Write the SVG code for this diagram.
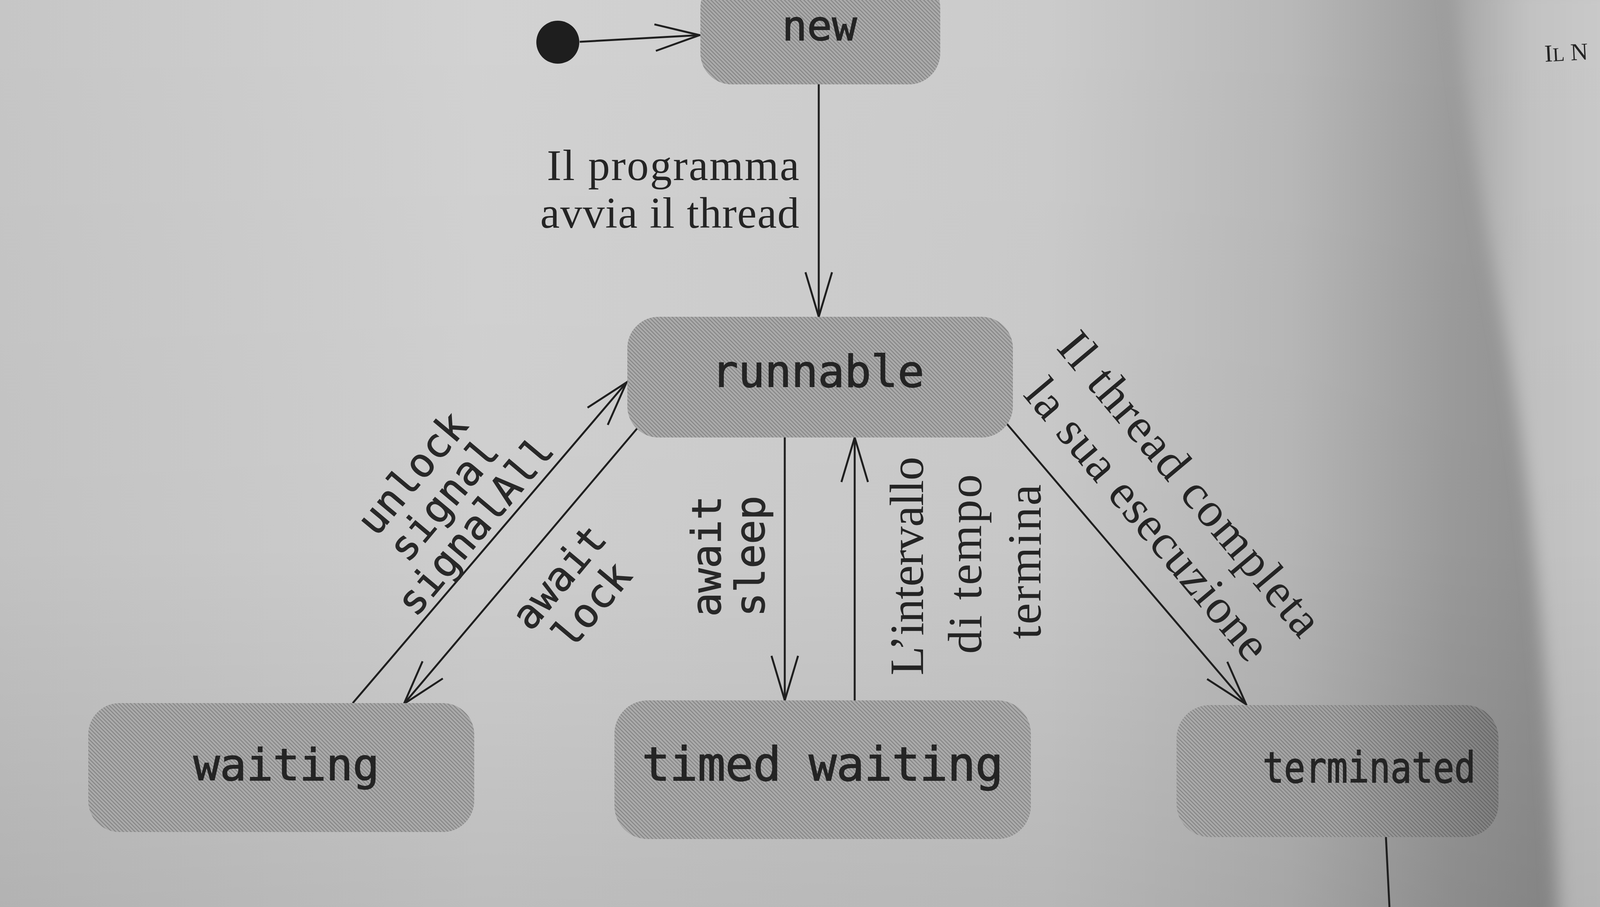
<svg xmlns="http://www.w3.org/2000/svg" width="4128" height="2322" viewBox="0 0 4128 2322">
  <defs>
    <style>
      .box { fill: url(#hatch); stroke: none; }
      .state { font-family: "DejaVu Sans Mono", "Liberation Mono", monospace; fill: #242424; stroke: #242424; stroke-width: 2; text-anchor: middle; }
      .mono { font-family: "DejaVu Sans Mono", "Liberation Mono", monospace; fill: #282828; stroke: #282828; stroke-width: 1.5; text-anchor: middle; font-size: 103px; }
      .serif { font-family: "Liberation Serif", "DejaVu Serif", serif; fill: #242424; }
      .conn { stroke: #1f1f1f; stroke-width: 5; fill: none; }
    </style>
    <pattern id="hatch" patternUnits="userSpaceOnUse" width="7" height="7" patternTransform="rotate(45)">
      <rect width="7" height="7" fill="#ababab"/>
      <rect width="7" height="2.3" fill="#838383"/>
    </pattern>
    <linearGradient id="paper" x1="0" y1="0" x2="1" y2="0">
      <stop offset="0" stop-color="#c6c6c6"/>
      <stop offset="0.3" stop-color="#d2d2d2"/>
      <stop offset="0.65" stop-color="#cbcbcb"/>
      <stop offset="0.8" stop-color="#b8b8b8"/>
      <stop offset="0.9" stop-color="#9c9c9c"/>
      <stop offset="1" stop-color="#8c8c8c"/>
    </linearGradient>
    <linearGradient id="pageR" x1="0" y1="0" x2="1" y2="0">
      <stop offset="0" stop-color="#a4a4a4"/>
      <stop offset="0.4" stop-color="#c2c2c2"/>
      <stop offset="1" stop-color="#cdcdcd"/>
    </linearGradient>
    <linearGradient id="vshade" x1="0" y1="0" x2="0" y2="1">
      <stop offset="0" stop-color="#000" stop-opacity="0"/>
      <stop offset="0.6" stop-color="#000" stop-opacity="0.02"/>
      <stop offset="1" stop-color="#000" stop-opacity="0.1"/>
    </linearGradient>
    <linearGradient id="termShade" x1="0" y1="0" x2="1" y2="0">
      <stop offset="0" stop-color="#000" stop-opacity="0"/>
      <stop offset="0.5" stop-color="#000" stop-opacity="0.05"/>
      <stop offset="1" stop-color="#000" stop-opacity="0.25"/>
    </linearGradient>
    <filter id="soft" x="-0.2" y="-0.1" width="1.4" height="1.2">
      <feGaussianBlur stdDeviation="22"/>
    </filter>
    <marker id="arr" markerUnits="userSpaceOnUse" viewBox="-125 -45 135 90" markerWidth="135" markerHeight="90" refX="0" refY="0" orient="auto" overflow="visible">
      <path d="M-114,-34 L0,0 L-114,34" fill="none" stroke="#1f1f1f" stroke-width="5" stroke-linejoin="miter"/>
    </marker>
  </defs>

  <!-- paper background -->
  <g id="background">
    <rect x="0" y="0" width="4128" height="2322" fill="url(#paper)"/>
    <path d="M3720,-40 L4200,-40 L4200,2380 L3990,2380 C3975,1900 3930,1300 3860,900 C3800,560 3740,220 3720,-40 Z" fill="url(#pageR)" filter="url(#soft)"/>
    <rect x="0" y="0" width="4128" height="2322" fill="url(#vshade)"/>
    <text x="3955" y="158" class="serif" font-size="62" fill="#4a4a4a" transform="rotate(-3 3955 158)">I<tspan font-size="50">L</tspan> N</text>
  </g>

  <!-- connectors -->
  <g id="connectors">
    <path class="conn" d="M1484,107 L1791,90" marker-end="url(#arr)"/>
    <path class="conn" d="M2096,216 L2096,811" marker-end="url(#arr)"/>
    <path class="conn" d="M903,1800 L1604,979" marker-end="url(#arr)"/>
    <path class="conn" d="M1631,1097 L1034,1802" marker-end="url(#arr)"/>
    <path class="conn" d="M2009,1120 L2009,1793" marker-end="url(#arr)"/>
    <path class="conn" d="M2188,1793 L2188,1120" marker-end="url(#arr)"/>
    <path class="conn" d="M2575,1082 L3190,1803" marker-end="url(#arr)"/>
    <path class="conn" d="M3548,2143 L3557,2322"/>
  </g>

  <!-- connector labels -->
  <g id="label-start">
    <text class="serif" x="2046" y="461" font-size="112" text-anchor="end" textLength="646">Il programma</text>
    <text class="serif" x="2046" y="583" font-size="112" text-anchor="end" textLength="663">avvia il thread</text>
  </g>
  <g id="label-unlock" transform="translate(1136,1279) rotate(-50)">
    <text class="mono" x="0" y="-70">unlock</text>
    <text class="mono" x="0" y="35">signal</text>
    <text class="mono" x="0" y="140">signalAll</text>
  </g>
  <g id="label-await-lock" transform="translate(1474,1514) rotate(-50)">
    <text class="mono" x="0" y="-21">await</text>
    <text class="mono" x="0" y="89">lock</text>
  </g>
  <g id="label-await-sleep" transform="translate(1845,1424) rotate(-90)">
    <text class="mono" x="0" y="0" font-size="100">await</text>
    <text class="mono" x="0" y="112" font-size="100">sleep</text>
  </g>
  <g id="label-timeout" transform="translate(2363,1449) rotate(-90)">
    <text class="serif" x="0" y="0" font-size="122" text-anchor="middle" textLength="560">L’intervallo</text>
    <text class="serif" x="5" y="149" font-size="122" text-anchor="middle" textLength="460">di tempo</text>
    <text class="serif" x="11" y="301" font-size="122" text-anchor="middle" textLength="396">termina</text>
  </g>
  <g id="label-complete" transform="translate(2990,1286) rotate(50)">
    <text class="serif" x="0" y="-33" font-size="125" text-anchor="middle" textLength="975">Il thread completa</text>
    <text class="serif" x="0" y="109" font-size="125" text-anchor="middle" textLength="900">la sua esecuzione</text>
  </g>

  <!-- nodes -->
  <g id="initial">
    <circle cx="1428" cy="108" r="55" fill="#1e1e1e"/>
  </g>
  <g id="node-new">
    <rect class="box" x="1793" y="-60" width="614" height="276" rx="80"/>
    <text class="state" x="2098" y="103" font-size="106">new</text>
  </g>
  <g id="node-runnable">
    <rect class="box" x="1606" y="811" width="987" height="309" rx="80"/>
    <text class="state" x="2094" y="990" font-size="113">runnable</text>
  </g>
  <g id="node-waiting">
    <rect class="box" x="226" y="1800" width="988" height="330" rx="80"/>
    <text class="state" x="733" y="1997" font-size="113">waiting</text>
  </g>
  <g id="node-timed-waiting">
    <rect class="box" x="1573" y="1793" width="1066" height="355" rx="85"/>
    <text class="state" x="2106" y="1998" font-size="119" textLength="925">timed waiting</text>
  </g>
  <g id="node-terminated">
    <rect class="box" x="3012" y="1805" width="824" height="338" rx="85"/>
    <rect x="3012" y="1805" width="824" height="338" rx="85" fill="url(#termShade)"/>
    <text class="state" x="3505" y="2003" font-size="108" textLength="545" lengthAdjust="spacingAndGlyphs">terminated</text>
  </g>
</svg>
